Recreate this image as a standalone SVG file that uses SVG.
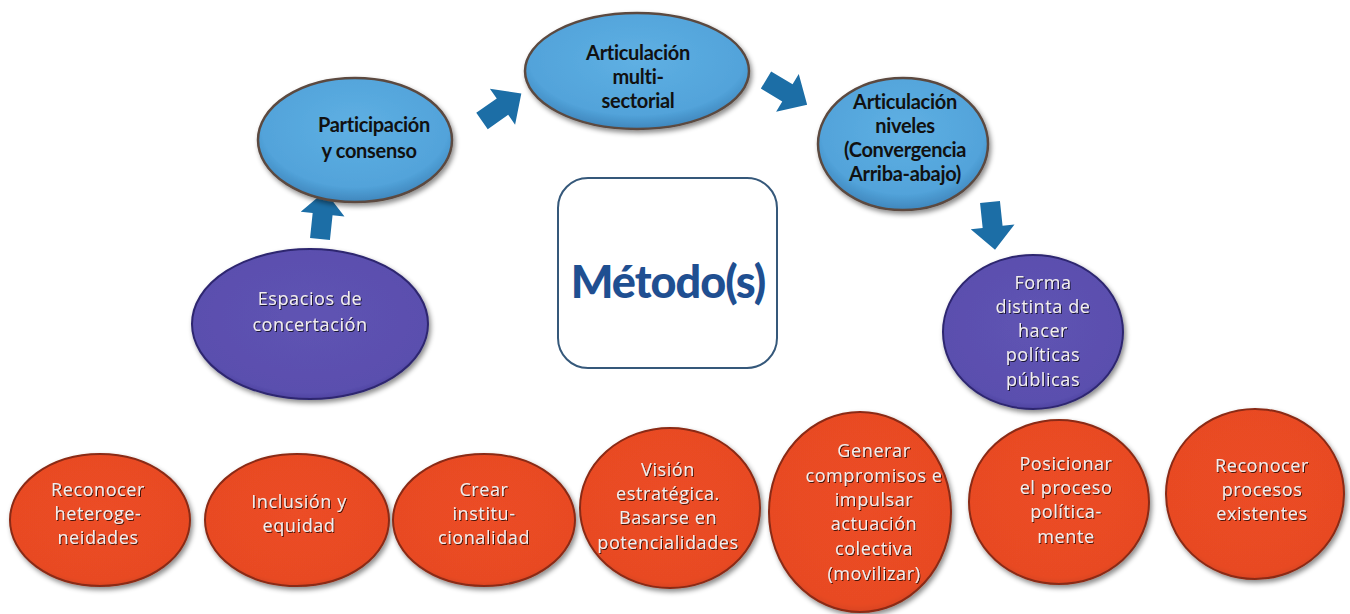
<svg xmlns="http://www.w3.org/2000/svg" width="1350" height="614" viewBox="0 0 1350 614">
<defs>
  <radialGradient id="gBlue" cx="50%" cy="40%" r="60%">
    <stop offset="0" stop-color="#5fb0e3"/>
    <stop offset="0.8" stop-color="#52a3da"/>
    <stop offset="1" stop-color="#3f86bc"/>
  </radialGradient>
  <radialGradient id="gPurple" cx="50%" cy="45%" r="60%">
    <stop offset="0" stop-color="#5f53b3"/>
    <stop offset="0.85" stop-color="#5a4fae"/>
    <stop offset="1" stop-color="#3f3590"/>
  </radialGradient>
  <radialGradient id="gRed" cx="50%" cy="45%" r="60%">
    <stop offset="0" stop-color="#ec4d25"/>
    <stop offset="0.85" stop-color="#e84a24"/>
    <stop offset="1" stop-color="#c83a1a"/>
  </radialGradient>
  <filter id="sh" x="-10%" y="-10%" width="125%" height="125%">
    <feDropShadow dx="2" dy="3" stdDeviation="2.5" flood-color="#000" flood-opacity="0.45"/>
  </filter>
  <filter id="tsh" x="-10%" y="-10%" width="120%" height="130%">
    <feDropShadow dx="1" dy="1" stdDeviation="0.6" flood-color="#000" flood-opacity="0.7"/>
  </filter>
  <path id="arr" d="M0,-10 L25,-10 L25,-22 L48,0 L25,22 L25,10 L0,10 Z" fill="#1c6ea6"/>
  <style>
    .blue{fill:url(#gBlue);stroke:#5b4a40;stroke-width:2.5;filter:url(#sh)}
    .purple{fill:url(#gPurple);stroke:#2e2770;stroke-width:2;filter:url(#sh)}
    .red{fill:url(#gRed);stroke:#8a2a14;stroke-width:2;filter:url(#sh)}
    .bt{font-family:Lato,"Liberation Sans",sans-serif;font-weight:bold;font-size:20px;fill:#111;text-anchor:middle;letter-spacing:-0.3px}
    .wt{font-family:"Open Sans","Liberation Sans",sans-serif;font-size:18px;fill:#f2eeee;text-anchor:middle;letter-spacing:0.6px;filter:url(#tsh)}
    .mt{font-family:Lato,"Liberation Sans",sans-serif;font-weight:900;font-size:45px;fill:#1f4f91;text-anchor:middle;letter-spacing:-1px}
  </style>
</defs>
<rect width="1350" height="614" fill="#ffffff"/>

<g id="connectors">
  <use href="#arr" transform="translate(320,239) rotate(-84)"/>
  <use href="#arr" transform="translate(482,121) rotate(-35)"/>
  <use href="#arr" transform="translate(766,80) rotate(31)"/>
  <use href="#arr" transform="translate(990,202) rotate(84)"/>
</g>

<g id="n-participacion">
  <ellipse class="blue" cx="355" cy="140" rx="97" ry="62"/>
  <text class="bt" x="374" y="132">Participación</text>
  <text class="bt" x="369" y="158">y consenso</text>
</g>

<g id="n-multisectorial">
  <ellipse class="blue" cx="637" cy="71" rx="112" ry="58"/>
  <text class="bt" x="638" y="60">Articulación</text>
  <text class="bt" x="638" y="84">multi-</text>
  <text class="bt" x="638" y="108">sectorial</text>
</g>

<g id="n-niveles">
  <ellipse class="blue" cx="903" cy="144" rx="85" ry="66"/>
  <text class="bt" x="905" y="109">Articulación</text>
  <text class="bt" x="905" y="133">niveles</text>
  <text class="bt" x="905" y="157">(Convergencia</text>
  <text class="bt" x="905" y="181">Arriba-abajo)</text>
</g>

<g id="n-metodo">
  <rect x="558" y="178" width="219" height="190" rx="30" ry="30" fill="#ffffff" stroke="#35587a" stroke-width="2"/>
  <text class="mt" x="668" y="298">Método(s)</text>
</g>

<g id="n-espacios">
  <ellipse class="purple" cx="310" cy="324" rx="118" ry="75"/>
  <text class="wt" x="310" y="305">Espacios de</text>
  <text class="wt" x="310" y="331">concertación</text>
</g>

<g id="n-forma">
  <ellipse class="purple" cx="1033" cy="332" rx="90" ry="77"/>
  <text class="wt" x="1043" y="289">Forma</text>
  <text class="wt" x="1043" y="313">distinta de</text>
  <text class="wt" x="1043" y="337">hacer</text>
  <text class="wt" x="1043" y="361">políticas</text>
  <text class="wt" x="1043" y="386">públicas</text>
</g>

<g id="n-heterogeneidades">
  <ellipse class="red" cx="100" cy="520" rx="90" ry="66"/>
  <text class="wt" x="98" y="496">Reconocer</text>
  <text class="wt" x="98" y="520">heteroge-</text>
  <text class="wt" x="98" y="544">neidades</text>
</g>

<g id="n-inclusion">
  <ellipse class="red" cx="297" cy="520" rx="92" ry="66"/>
  <text class="wt" x="299" y="508">Inclusión y</text>
  <text class="wt" x="299" y="532">equidad</text>
</g>

<g id="n-institucionalidad">
  <ellipse class="red" cx="484" cy="520" rx="91" ry="66"/>
  <text class="wt" x="484" y="496">Crear</text>
  <text class="wt" x="484" y="520">institu-</text>
  <text class="wt" x="484" y="544">cionalidad</text>
</g>

<g id="n-vision">
  <ellipse class="red" cx="670" cy="508" rx="90" ry="80"/>
  <text class="wt" x="668" y="476">Visión</text>
  <text class="wt" x="668" y="500">estratégica.</text>
  <text class="wt" x="668" y="524">Basarse en</text>
  <text class="wt" x="668" y="549">potencialidades</text>
</g>

<g id="n-generar">
  <ellipse class="red" cx="860" cy="512" rx="91" ry="100"/>
  <text class="wt" x="874" y="457">Generar</text>
  <text class="wt" x="874" y="482">compromisos e</text>
  <text class="wt" x="874" y="506">impulsar</text>
  <text class="wt" x="874" y="530">actuación</text>
  <text class="wt" x="874" y="555">colectiva</text>
  <text class="wt" x="874" y="580">(movilizar)</text>
</g>

<g id="n-posicionar">
  <ellipse class="red" cx="1059" cy="502" rx="90" ry="82"/>
  <text class="wt" x="1066" y="470">Posicionar</text>
  <text class="wt" x="1066" y="494">el proceso</text>
  <text class="wt" x="1066" y="518">política-</text>
  <text class="wt" x="1066" y="543">mente</text>
</g>

<g id="n-procesos">
  <ellipse class="red" cx="1255" cy="494" rx="89" ry="85"/>
  <text class="wt" x="1262" y="472">Reconocer</text>
  <text class="wt" x="1262" y="496">procesos</text>
  <text class="wt" x="1262" y="520">existentes</text>
</g>
</svg>
